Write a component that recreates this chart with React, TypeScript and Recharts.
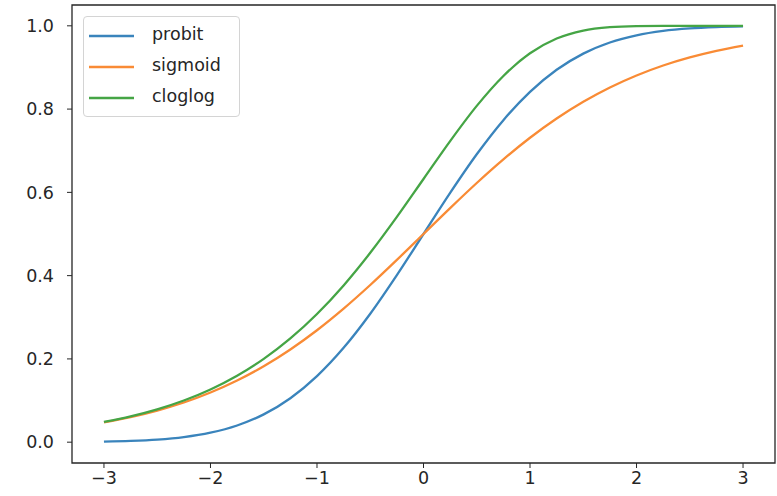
import React from 'react';
import { LineChart, Line, XAxis, YAxis, ReferenceArea } from 'recharts';

const xValues = [-3, -2.75, -2.5, -2.25, -2, -1.75, -1.5, -1.25, -1, -0.75, -0.5, -0.25, 0, 0.25, 0.5, 0.75, 1, 1.25, 1.5, 1.75, 2, 2.25, 2.5, 2.75, 3];
const probit = [0.0013, 0.003, 0.0062, 0.0122, 0.0228, 0.0401, 0.0668, 0.1056, 0.1587, 0.2266, 0.3085, 0.4013, 0.5, 0.5987, 0.6915, 0.7734, 0.8413, 0.8944, 0.9332, 0.9599, 0.9772, 0.9878, 0.9938, 0.997, 0.9987];
const sigmoid = [0.0474, 0.0601, 0.0759, 0.0953, 0.1192, 0.148, 0.1824, 0.2227, 0.2689, 0.3208, 0.3775, 0.4378, 0.5, 0.5622, 0.6225, 0.6792, 0.7311, 0.7773, 0.8176, 0.852, 0.8808, 0.9047, 0.9241, 0.9399, 0.9526];
const cloglog = [0.0486, 0.0619, 0.0788, 0.1, 0.1266, 0.1595, 0.2, 0.2491, 0.3078, 0.3765, 0.4548, 0.541, 0.6321, 0.7231, 0.8077, 0.8796, 0.934, 0.9695, 0.9887, 0.9968, 0.9994, 0.9999, 1.0, 1.0, 1.0];
const xTicks = [-3, -2, -1, 0, 1, 2, 3];
const yTicks = [0, 0.2, 0.4, 0.6, 0.8, 1.0];

const seriesNames = ['probit', 'sigmoid', 'cloglog'];
const colors = ['#3a84bc', '#f98b35', '#45a545'];

const data = xValues.map((x, i) => ({ x, probit: probit[i], sigmoid: sigmoid[i], cloglog: cloglog[i] }));

const FONT = '"DejaVu Sans", sans-serif';
const TEXT = '#262626';

export default function App() {
  return (
    <div style={{ position: 'absolute', left: 0, top: 0, width: 777, height: 496, background: '#fff' }}>
      <LineChart width={777} height={496} data={data} margin={{ top: 5, right: 2, left: 0, bottom: 0 }}>
        <XAxis
          dataKey="x"
          type="number"
          domain={[-3.3, 3.3]}
          ticks={xTicks}
          allowDataOverflow
          height={33}
          tickSize={5}
          tickMargin={4}
          axisLine={false}
          tickLine={{ stroke: TEXT }}
          tick={{ fill: TEXT, fontSize: 17.5, fontFamily: FONT }}
          tickFormatter={(v: number) => String(v).replace('-', '\u2212')}
        />
        <YAxis
          type="number"
          domain={[-0.05, 1.05]}
          ticks={yTicks}
          allowDataOverflow
          width={72}
          tickSize={5}
          tickMargin={13}
          axisLine={false}
          tickLine={{ stroke: TEXT }}
          tick={{ fill: TEXT, fontSize: 17.5, fontFamily: FONT }}
          tickFormatter={(v: number) => v.toFixed(1)}
        />
        <ReferenceArea x1={-3.3} x2={3.3} y1={-0.05} y2={1.05} fill="none" stroke={TEXT} strokeWidth={1.3} ifOverflow="visible" />
        {seriesNames.map((n, i) => (
          <Line key={n} dataKey={n} type="monotone" stroke={colors[i]} strokeWidth={2.3} dot={false} isAnimationActive={false} />
        ))}
      </LineChart>
      <div
        style={{
          position: 'absolute',
          left: 83,
          top: 16,
          width: 157,
          height: 101,
          border: '1px solid #d4d4d4',
          borderRadius: 4,
          background: 'rgba(255,255,255,0.85)',
          boxSizing: 'border-box',
          fontFamily: FONT,
          fontSize: 17.5,
          color: TEXT,
          paddingTop: 3,
        }}
      >
        {seriesNames.map((n, i) => (
          <div key={n} style={{ display: 'flex', alignItems: 'center', height: 31 }}>
            <svg width={50} height={10} style={{ marginLeft: 4, flex: 'none' }}>
              <line x1={1} y1={5} x2={46} y2={5} stroke={colors[i]} strokeWidth={2.3} />
            </svg>
            <span style={{ marginLeft: 14, marginTop: -4 }}>{n}</span>
          </div>
        ))}
      </div>
    </div>
  );
}
